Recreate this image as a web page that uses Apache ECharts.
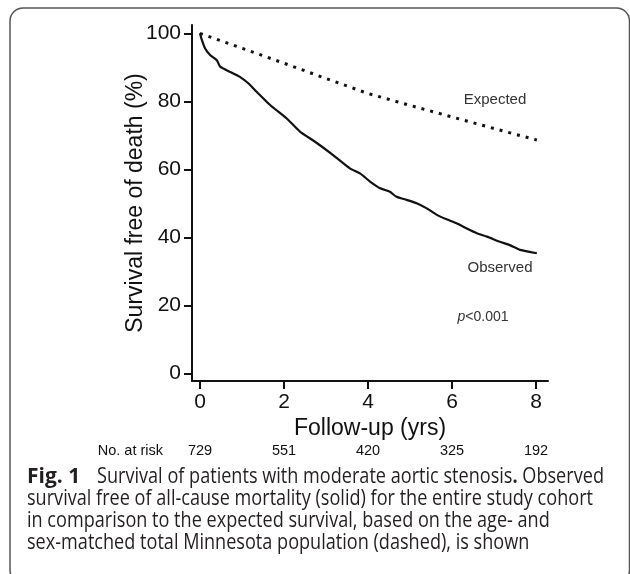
<!DOCTYPE html>
<html><head><meta charset="utf-8">
<script src="https://cdn.jsdelivr.net/npm/echarts@6/dist/echarts.min.js"></script>
<style>html,body{margin:0;padding:0;background:#fff}#c{width:630px;height:574px}</style>
</head><body><div id="c"></div>
<script>
// Observed Kaplan-Meier survival (solid)
const obsYears = [0, 0.04, 0.12, 0.24, 0.40, 0.48, 0.71, 0.95, 1.15, 1.35, 1.67, 2.06, 2.38, 2.74, 3.17, 3.57, 3.81, 4.05, 4.29, 4.52, 4.68, 4.92, 5.16, 5.40, 5.64, 5.87, 6.11, 6.35, 6.59, 6.83, 7.14, 7.38, 7.62, 8.02];
const observed = [100, 98.2, 95.6, 93.6, 92.1, 90.2, 88.7, 87.2, 85.3, 82.8, 78.9, 75.0, 71.1, 68.1, 64.2, 60.3, 58.8, 56.4, 54.4, 53.4, 51.9, 51.0, 50.0, 48.5, 46.6, 45.3, 44.1, 42.6, 41.2, 40.2, 38.7, 37.7, 36.3, 35.3];
// Expected survival (dashed)
const expYears = [0, 1, 2, 3, 4, 5, 6, 7, 8.02];
const expected = [100, 95.6, 91.2, 86.7, 82.3, 78.8, 75.4, 72.0, 68.6];
const xTicks = [0, 2, 4, 6, 8];
const yTicks = [0, 20, 40, 60, 80, 100];
const atRisk = [729, 551, 420, 325, 192];
const captionLabel = 'Fig. 1';
const captionLines = [
  'Survival of patients with moderate aortic stenosis',
  'survival free of all-cause mortality (solid) for the entire study cohort',
  'in comparison to the expected survival, based on the age- and',
  'sex-matched total Minnesota population (dashed), is shown'
];

const AX = 'Liberation Sans, Arial, sans-serif';
const CAPF = '"Open Sans", "Noto Sans", sans-serif';
const CAP_SIZE = 21;
// horizontal squeeze so the caption keeps the printed line length
const mctx = document.createElement('canvas').getContext('2d');
mctx.font = CAP_SIZE + 'px ' + CAPF;
const capScale = 566 / mctx.measureText(captionLines[1]).width;
const capStyle = {fontSize: CAP_SIZE, fontFamily: CAPF, fill: '#231f20'};
function capText(x, y, str, extra) {
  return {type: 'text', x: x, y: y, scaleX: capScale, scaleY: 1,
    style: Object.assign({}, capStyle, {text: str, textVerticalAlign: 'middle'}, extra || {})};
}

const chart = echarts.init(document.getElementById('c'), null, {renderer: 'canvas'});
chart.setOption({
  animation: false,
  backgroundColor: '#fff',
  grid: {left: 192, top: 25, right: 82, bottom: 193, containLabel: false, outerBoundsMode: 'none'},
  xAxis: [{
    type: 'value', min: -0.19, max: 8.286, position: 'bottom',
    axisLine: {show: true, onZero: false, lineStyle: {color: '#111', width: 2}},
    axisTick: {show: true, length: 8, customValues: xTicks, lineStyle: {color: '#111', width: 2}},
    axisLabel: {customValues: xTicks, fontSize: 21, margin: 11, color: '#111', fontFamily: AX},
    splitLine: {show: false},
    name: 'Follow-up (yrs)', nameLocation: 'middle', nameGap: 36, nameMoveOverlap: false,
    nameTextStyle: {fontSize: 23, color: '#111', fontFamily: AX}
  }, {
    type: 'value', min: -0.19, max: 8.286, position: 'bottom', offset: 70,
    axisLine: {show: false, onZero: false}, axisTick: {show: false}, splitLine: {show: false},
    axisLabel: {customValues: xTicks, fontSize: 14.5, margin: 0, verticalAlign: 'middle', color: '#111', fontFamily: AX,
      formatter: v => String(atRisk[xTicks.indexOf(Math.round(v))])},
    name: 'No. at risk', nameLocation: 'start', nameGap: 29, nameMoveOverlap: false,
    nameTextStyle: {fontSize: 14.5, color: '#111', fontFamily: AX, verticalAlign: 'middle'}
  }],
  yAxis: {
    type: 'value', min: -2.26, max: 102.44,
    axisLine: {show: true, onZero: false, lineStyle: {color: '#111', width: 2}},
    axisTick: {show: true, length: 8, customValues: yTicks, lineStyle: {color: '#111', width: 2}},
    axisLabel: {customValues: yTicks, fontSize: 21, margin: 11, color: '#111', fontFamily: AX},
    splitLine: {show: false},
    name: 'Survival free of death (%)', nameLocation: 'middle', nameGap: 45, nameMoveOverlap: false,
    nameTextStyle: {fontSize: 23, color: '#111', fontFamily: AX}
  },
  series: [{
    type: 'line', xAxisIndex: 0, showSymbol: false, silent: true, smooth: 0.2,
    data: obsYears.map((t, i) => [t, observed[i]]),
    lineStyle: {color: '#111', width: 2.2}
  }, {
    type: 'line', xAxisIndex: 0, showSymbol: false, silent: true,
    data: expYears.map((t, i) => [t, expected[i]]),
    lineStyle: {color: '#111', width: 3, type: [3, 6]}
  }],
  graphic: [
    {type: 'rect', shape: {x: 10, y: 8, width: 619.5, height: 575, r: 13}, style: {fill: 'none', stroke: '#555', lineWidth: 1.5}, silent: true},
    {type: 'text', x: 495, y: 100, style: {text: 'Expected', font: '15px ' + AX, fill: '#333', textAlign: 'center', textVerticalAlign: 'middle'}},
    {type: 'text', x: 500, y: 268, style: {text: 'Observed', font: '15px ' + AX, fill: '#333', textAlign: 'center', textVerticalAlign: 'middle'}},
    {type: 'text', x: 483, y: 317, style: {text: '{i|p}<0.001', font: '14px ' + AX, fill: '#333', textAlign: 'center', textVerticalAlign: 'middle',
      rich: {i: {fontStyle: 'italic', fontSize: 14, fontFamily: AX, fill: '#333'}}}},
    {type: 'text', x: 27, y: 477.5, style: {text: captionLabel, fontSize: CAP_SIZE, fontWeight: 'bold', fontFamily: CAPF, fill: '#231f20', textVerticalAlign: 'middle'}},
    capText(97, 477.5, captionLines[0] + '{b|.} Observed',
      {rich: {b: Object.assign({}, capStyle, {fontWeight: 'bold'})}}),
    capText(27, 499.5, captionLines[1]),
    capText(27, 521.5, captionLines[2]),
    capText(27, 543.5, captionLines[3])
  ]
});
</script></body></html>
